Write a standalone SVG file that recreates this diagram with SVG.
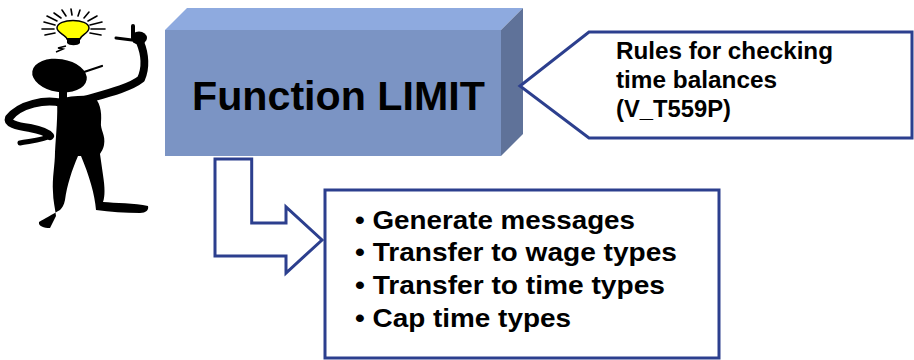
<svg xmlns="http://www.w3.org/2000/svg" width="914" height="360" viewBox="0 0 914 360">
  <style>
    .outline { fill: #ffffff; stroke: #2c3f8e; stroke-width: 3; stroke-linejoin: miter; }
    .label { font-family: "Liberation Sans", Arial, sans-serif; font-weight: bold; fill: #000000; }
    .ink { fill: #000000; }
    .limb { fill: none; stroke: #000000; stroke-linecap: round; stroke-linejoin: round; }
    .ray { stroke: #000000; stroke-width: 1.6; stroke-linecap: round; }
  </style>

  <rect width="914" height="360" fill="#ffffff"/>

  <!-- thinking figure with light bulb -->
  <g id="figure">
    <!-- rays around the bulb -->
    <g id="bulb-rays">
      <line class="ray" x1="54" y1="29" x2="42" y2="29"/>
      <line class="ray" x1="55" y1="25" x2="44" y2="22"/>
      <line class="ray" x1="57" y1="21" x2="47" y2="16"/>
      <line class="ray" x1="61" y1="18" x2="54" y2="13"/>
      <line class="ray" x1="66" y1="16" x2="62" y2="10"/>
      <line class="ray" x1="72" y1="15" x2="71" y2="9"/>
      <line class="ray" x1="78" y1="16" x2="80" y2="10"/>
      <line class="ray" x1="84" y1="18" x2="89" y2="12"/>
      <line class="ray" x1="88" y1="21" x2="97" y2="16"/>
      <line class="ray" x1="90" y1="25" x2="102" y2="22"/>
      <line class="ray" x1="91" y1="29" x2="105" y2="29"/>
      <line class="ray" x1="55" y1="33" x2="45" y2="35"/>
      <line class="ray" x1="90" y1="33" x2="101" y2="35"/>
    </g>
    <path d="M57,28 C57,18 89,18 89,28 C89,33 81,35 80,39 L67,39 C66,35 57,33 57,28 Z" fill="#ffff00" stroke="#000000" stroke-width="1.5"/>
    <path class="ink" d="M67,38 L80,38 L80,43 C78,46 69,46 67,43 Z"/>
    <path d="M66,46 L58,48 L63,49 L56,52" fill="none" stroke="#000000" stroke-width="1.5"/>

    <!-- head and face line -->
    <ellipse class="ink" cx="59.5" cy="75.5" rx="27.5" ry="16.5" transform="rotate(9 59.5 75.5)"/>
    <line x1="84" y1="72" x2="102" y2="66" stroke="#000000" stroke-width="2.2" stroke-linecap="round"/>
    <rect class="ink" x="59" y="88" width="8" height="11"/>

    <!-- torso and legs -->
    <path class="ink" d="M57,99 C70,96 82,95 92,96 C100,100 102,112 101,122 C100,130 106,135 104,145 C103,150 101,152 100,154
      L103,175 C105,188 105,196 103,202 C115,203 135,203 148,206 C149,210 146,213 140,213 C125,213 110,212 96,210
      C95,195 89,175 81,156 L78,156 C72,170 67,185 65,200 C64,205 62,208 60,210
      C53,214 44,219 39,222 C38,226 44,228 50,228 C52,224 54,220 56,216
      C55,208 53,200 53,192 C52,178 55,165 55,152 C56,135 58,115 57,99 Z"/>

    <!-- arm on the hip -->
    <path class="limb" stroke-width="8" d="M62,103 C45,99 20,104 9,118 C7,123 15,126 30,128 C40,130 47,132 50,136"/>
    <path class="limb" stroke-width="5" d="M50,136 C44,140 30,141 20,143"/>

    <!-- raised arm with pointing finger -->
    <path class="limb" stroke-width="8" d="M84,100 C105,94 130,88 141,79 C146,68 145,54 140,42"/>
    <ellipse class="ink" cx="139" cy="38" rx="8" ry="6.5"/>
    <path class="limb" stroke-width="4" d="M133,37 L133,26"/>
    <path class="limb" stroke-width="3" d="M132,40 L116,38"/>
  </g>

  <!-- main block, drawn as a box with top and side faces -->
  <g id="function-limit">
    <polygon points="165,30 187,8 523,8 501,30" fill="#8eaadf"/>
    <polygon points="501,30 523,8 523,134 501,156" fill="#5f7299"/>
    <rect x="165" y="30" width="336" height="126" fill="#7b94c4"/>
    <text class="label" x="192" y="110" font-size="41.2">Function LIMIT</text>
  </g>

  <!-- callout with the rules table -->
  <g id="rules-callout">
    <polygon class="outline" points="520,86 589,32 912,32 912,138 589,138"/>
    <text class="label" font-size="23.3" x="616" y="58.5" textLength="217" lengthAdjust="spacingAndGlyphs">Rules for checking</text>
    <text class="label" font-size="23.3" x="616" y="88" textLength="161" lengthAdjust="spacingAndGlyphs">time balances</text>
    <text class="label" font-size="23.3" x="616" y="116.5" textLength="115" lengthAdjust="spacingAndGlyphs">(V_T559P)</text>
  </g>

  <!-- bent arrow from the block to the list -->
  <g id="connectors">
    <polygon class="outline" points="215,159 251.7,159 251.7,223 286,223 286,207 322,240 286,273 286,256 215,256"/>
  </g>

  <!-- list of what the function does -->
  <g id="actions">
    <rect class="outline" x="325" y="190" width="394" height="168"/>
    <text class="label" font-size="26" x="355" y="229" textLength="280" lengthAdjust="spacingAndGlyphs">• Generate messages</text>
    <text class="label" font-size="26" x="355" y="261" textLength="322" lengthAdjust="spacingAndGlyphs">• Transfer to wage types</text>
    <text class="label" font-size="26" x="355" y="294" textLength="310" lengthAdjust="spacingAndGlyphs">• Transfer to time types</text>
    <text class="label" font-size="26" x="355" y="327" textLength="216" lengthAdjust="spacingAndGlyphs">• Cap time types</text>
  </g>
</svg>
